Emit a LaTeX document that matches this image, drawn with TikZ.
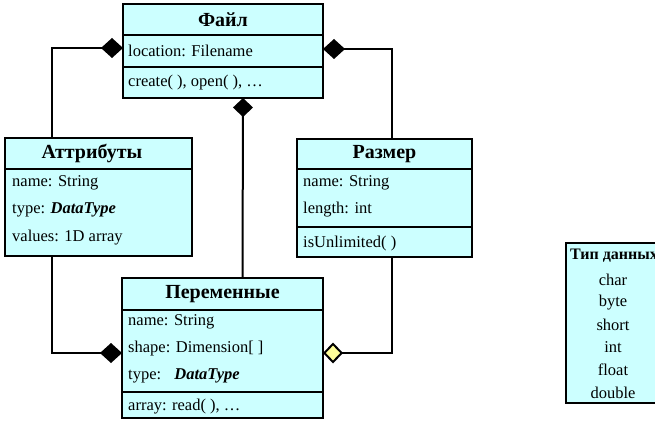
\documentclass[tikz,border=0pt]{standalone}
\usepackage{fontspec}
\setmainfont{Liberation Serif}
\usetikzlibrary{arrows.meta}
\definecolor{classfill}{HTML}{CCFFFF}
\definecolor{aggfill}{HTML}{FFFF99}
\begin{document}
\begin{tikzpicture}[x=1pt,y=-1pt,
  classbox/.style={draw, line width=2pt, fill=classfill, anchor=north west,
    inner sep=0pt, outer sep=0pt},
  divider/.style={line width=2pt},
  classtitle/.style={font=\fontsize{20}{22}\selectfont\bfseries, inner sep=0pt},
  field/.style={font=\fontsize{16.5}{19}\selectfont, anchor=west, inner sep=0pt},
  typetitle/.style={font=\fontsize{16}{18}\selectfont\bfseries, inner sep=0pt},
  typeitem/.style={font=\fontsize{16.5}{19}\selectfont, inner sep=0pt},
  link/.style={line width=2pt},
  comp/.style={link, -{Diamond[length=22pt,width=20pt]}},
  compv/.style={link, -{Diamond[length=19pt,width=20pt]}},
  agg/.style={link, -{Diamond[length=20pt,width=21pt,fill=aggfill]}}
]
\useasboundingbox (0,0) rectangle (655,422);

% ---- class Файл ----
\node[classbox, minimum width=200pt, minimum height=94pt] (file) at (123,4) {};
\draw[divider] (file.west |- 0,35) -- (file.east |- 0,35);
\draw[divider] (file.west |- 0,67) -- (file.east |- 0,67);
\node[classtitle] (fileT) at (223,19.5) {Файл};
\node[field] (fileLoc) at (128,51) {location: Filename};
\node[field] (fileOps) at (128,83) {create( ), open( ), \dots};

% ---- class Аттрибуты ----
\node[classbox, minimum width=187pt, minimum height=118pt] (attr) at (5,138) {};
\draw[divider] (attr.west |- 0,169) -- (attr.east |- 0,169);
\node[classtitle] (attrT) at (92,153.5) {Аттрибуты};
\node[field] (attrName) at (12,183) {name: String};
\node[field] (attrType) at (12,210) {type: \textbf{\textit{DataType}}};
\node[field] (attrVal) at (12,238) {values: 1D array};

% ---- class Размер ----
\node[classbox, minimum width=175pt, minimum height=118pt] (size) at (297,139) {};
\draw[divider] (size.west |- 0,169) -- (size.east |- 0,169);
\draw[divider] (size.west |- 0,227) -- (size.east |- 0,227);
\node[classtitle] (sizeT) at (384.5,154) {Размер};
\node[field] (sizeName) at (303,183) {name: String};
\node[field] (sizeLen) at (303,210) {length: int};
\node[field] (sizeUnl) at (303,244) {isUnlimited( )};

% ---- class Переменные ----
\node[classbox, minimum width=201pt, minimum height=140pt] (var) at (122,278) {};
\draw[divider] (var.west |- 0,310) -- (var.east |- 0,310);
\draw[divider] (var.west |- 0,392) -- (var.east |- 0,392);
\node[classtitle] (varT) at (222.5,294) {Переменные};
\node[field] (varName) at (128,322) {name: String};
\node[field] (varShape) at (128,349) {shape: Dimension[ ]};
\node[field] (varType) at (128,376) {type:\hspace{0.8em}\textbf{\textit{DataType}}};
\node[field] (varRead) at (128,407) {array: read( ), \dots};

% ---- list of data types ----
\node[classbox, minimum width=94pt, minimum height=160pt] (types) at (566,243) {};
\node[typetitle] (typesT) at (614,256) {Тип данных};
\node[typeitem] (tChar) at (613,280) {char};
\node[typeitem] (tByte) at (613,302.5) {byte};
\node[typeitem] (tShort) at (613,325) {short};
\node[typeitem] (tInt) at (613,347.5) {int};
\node[typeitem] (tFloat) at (613,370) {float};
\node[typeitem] (tDouble) at (613,392.5) {double};

% ---- associations ----
\draw[comp] ([xshift=47pt]attr.north west) |- ([yshift=3pt]file.west);
\draw[comp] ([xshift=95pt]size.north west) |- ([yshift=2pt]file.east);
\draw[compv] ([xshift=20pt]var.north) -- ([xshift=20pt]file.south);
\draw[comp] ([xshift=47pt]attr.south west) |- ([yshift=-5pt]var.west);
\draw[agg] ([xshift=95pt]size.south west) |- ([yshift=-5pt]var.east);
\end{tikzpicture}
\end{document}
